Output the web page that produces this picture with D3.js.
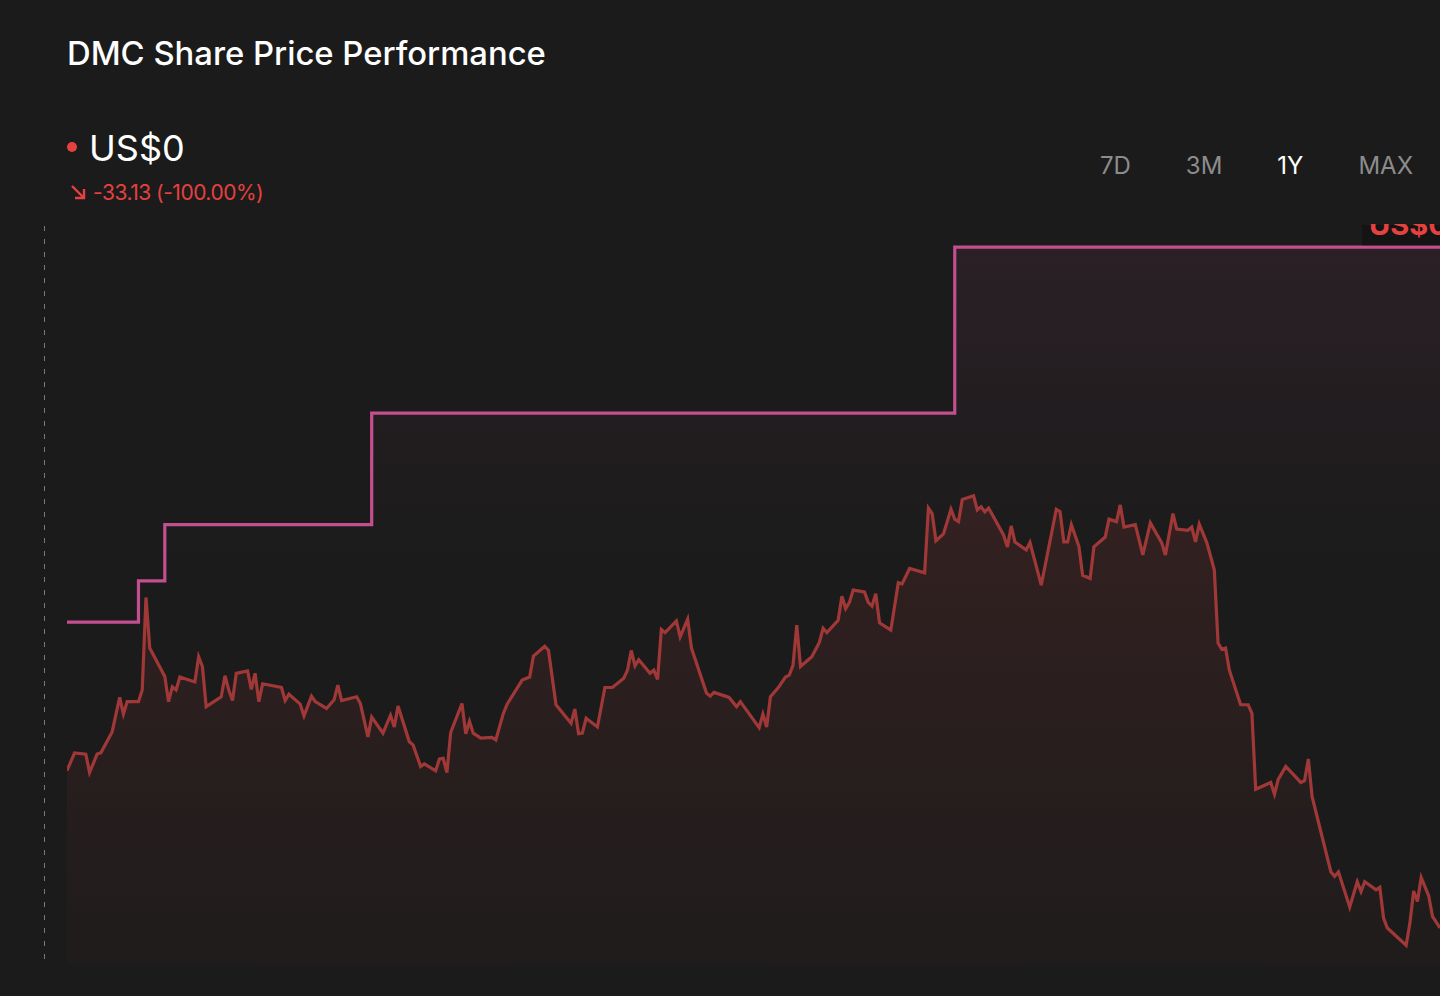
<!DOCTYPE html>
<html>
<head>
<meta charset="utf-8">
<script src="https://d3js.org/d3.v7.min.js"></script>
<style>
body {
    margin: 0;
    background: #1b1b1b;
    font-family: Inter, "Noto Sans", sans-serif;
}
svg { display: block; }
</style>
</head>
<body>
<script>
// price series: [day offset in the 1Y window, price]
var priceDays = [0,2,5,6,8,9,12,14,15,16,19,20,21,22,26,27,28,29,30,34,35,36,37,41,42,43,44,45,48,49,50,51,52,57,58,59,62,63,65,66,69,71,72,73,77,78,80,81,84,86,87,88,91,92,94,95,98,99,100,101,102,105,106,107,108,110,113,114,116,117,121,123,124,127,128,130,134,135,136,137,138,141,143,145,148,149,150,151,152,155,156,157,158,159,162,163,165,166,170,171,172,175,176,178,179,184,185,186,187,189,191,192,193,194,195,198,200,201,202,205,206,207,208,209,212,213,214,215,216,219,221,222,224,228,229,230,231,233,235,236,237,238,241,242,243,244,245,249,250,251,252,255,256,259,263,264,265,266,267,269,270,272,273,276,277,279,280,281,284,286,288,291,292,294,295,298,299,300,301,303,305,306,307,308,309,312,314,315,316,320,321,322,324,328,329,330,331,336,337,338,341,343,344,345,348,349,350,351,356,357,358,359,360,362,363,365];
var priceValues = [31.5,34.4,34.2,31.2,34.2,34.4,37.8,43.4,40.7,42.7,42.7,44.6,59.6,51.4,46.8,42.7,45.1,44.6,46.7,45.9,50.0,48.4,41.9,43.5,46.9,44.6,42.9,47.3,47.7,44.7,47.3,42.7,45.6,45.0,42.9,43.9,42.3,40.4,43.6,42.7,41.6,43.0,45.4,42.9,43.5,42.4,37.0,40.2,37.6,40.5,38.6,42.0,36.2,35.7,32.2,32.6,31.5,33.4,33.5,31.2,37.7,42.4,37.5,39.5,37.6,36.8,36.9,36.5,40.8,42.3,46.2,46.7,50.1,51.7,51.0,42.2,39.2,41.5,37.5,37.6,40.0,38.6,45.0,45.0,46.5,47.8,51.0,48.5,49.5,47.3,47.8,46.3,54.4,53.9,55.8,53.2,56.1,51.4,44.1,43.6,44.2,43.6,43.4,41.9,42.7,38.5,40.7,38.6,43.5,44.9,46.7,47.0,48.6,55.1,48.4,50.0,52.3,54.6,53.9,55.9,59.8,57.8,58.8,60.8,60.5,58.8,58.2,60.2,55.5,54.3,62.0,61.8,64.3,63.6,74.1,73.2,68.8,69.9,73.9,72.3,71.9,75.5,76.1,73.8,74.3,73.5,74.1,69.7,67.8,71.2,68.6,67.3,68.5,61.6,73.9,73.5,68.6,68.6,71.4,67.9,63.2,62.7,67.8,69.4,72.3,71.9,74.6,71.0,71.4,66.5,71.7,68.5,66.5,73.2,70.7,70.5,71.0,68.6,71.5,68.5,64.1,52.2,51.2,51.4,47.8,42.2,42.2,40.8,28.5,29.6,27.7,30.1,32.2,29.6,29.9,33.4,27.3,15.1,14.4,15.1,9.4,13.5,11.9,13.5,12.2,12.6,7.6,6.0,3.2,6.8,12.0,10.3,14.2,11.2,7.9,6.0];

// step series
var stepDays = [0,19,26,81,236,365];
var stepValues = [55.6,62.3,71.4,89.5,116.4,116.4];

var ranges = ["7D","3M","1Y","MAX"];
var activeRange = "1Y";

var width = 1440, height = 996;
var plotLeft = 67, plotRight = 1440, plotTop = 225, plotBottom = 965;

var svg = d3.select("body").append("svg")
    .attr("width", width)
    .attr("height", height);

var x = d3.scaleLinear().domain([0, 365]).range([plotLeft, plotRight]);
var y = d3.scaleLinear().domain([0, 120]).range([plotBottom, plotTop]);

var price = priceDays.map(function(d, i) { return {d: d, v: priceValues[i]}; });
var steps = stepDays.map(function(d, i) { return {d: d, v: stepValues[i]}; });

var defs = svg.append("defs");
defs.append("clipPath").attr("id", "plot")
  .append("rect").attr("x", plotLeft).attr("y", plotTop - 1)
    .attr("width", plotRight - plotLeft).attr("height", plotBottom - plotTop + 1);

var gPink = defs.append("linearGradient").attr("id", "pinkFill")
    .attr("gradientUnits", "userSpaceOnUse")
    .attr("x1", 0).attr("x2", 0).attr("y1", y(116.4)).attr("y2", 560);
gPink.append("stop").attr("offset", 0).attr("stop-color", "#c44f8f").attr("stop-opacity", 0.09);
gPink.append("stop").attr("offset", 1).attr("stop-color", "#c44f8f").attr("stop-opacity", 0);

var gRed = defs.append("linearGradient").attr("id", "redFill")
    .attr("gradientUnits", "userSpaceOnUse")
    .attr("x1", 0).attr("x2", 0).attr("y1", y(76)).attr("y2", plotBottom);
gRed.append("stop").attr("offset", 0).attr("stop-color", "#a83a3a").attr("stop-opacity", 0.17);
gRed.append("stop").attr("offset", 1).attr("stop-color", "#a83a3a").attr("stop-opacity", 0.03);

// title
svg.append("text")
    .attr("x", 67).attr("y", 65)
    .attr("fill", "#ffffff")
    .style("font-size", "32.8px")
    .style("font-weight", 500)
    .text("DMC Share Price Performance");

// current price
svg.append("circle").attr("cx", 72).attr("cy", 147).attr("r", 5).attr("fill", "#e5413f");
svg.append("text")
    .attr("x", 89).attr("y", 161)
    .attr("fill", "#ffffff")
    .style("font-size", "36px")
    .text("US$0");

// change
var arrow = svg.append("g").attr("stroke", "#e5413f").attr("stroke-width", 2.4).attr("fill", "none");
arrow.append("path").attr("d", "M72,186 L84,198");
arrow.append("path").attr("d", "M84,189 L84,198 L75,198");
svg.append("text")
    .attr("x", 93).attr("y", 200)
    .attr("fill", "#e5413f")
    .style("font-size", "21px")
    .style("letter-spacing", "-0.5px")
    .text("-33.13 (-100.00%)");

// range buttons, laid out right to left with a fixed gap
var btns = svg.selectAll(".range").data(ranges).enter().append("text")
    .attr("class", "range")
    .attr("y", 174)
    .attr("fill", function(d) { return d === activeRange ? "#ffffff" : "#8c8c8c"; })
    .style("font-size", "24px")
    .text(function(d) { return d; });
var cursor = 1413;
btns.nodes().reverse().forEach(function(n) {
    var w = n.getComputedTextLength();
    d3.select(n).attr("x", cursor - w);
    cursor -= w + 55;
});

// dashed guide
svg.append("line")
    .attr("x1", 44.5).attr("x2", 44.5)
    .attr("y1", plotTop + 1).attr("y2", plotBottom)
    .attr("stroke", "#7a7a7a")
    .attr("stroke-width", 1)
    .attr("stroke-dasharray", "5,8");

var plot = svg.append("g").attr("clip-path", "url(#plot)");

plot.append("path").datum(steps)
    .attr("fill", "url(#pinkFill)")
    .attr("d", d3.area().curve(d3.curveStepAfter)
        .x(function(d) { return x(d.d); }).y0(plotBottom).y1(function(d) { return y(d.v); }));

plot.append("path").datum(price)
    .attr("fill", "url(#redFill)")
    .attr("d", d3.area()
        .x(function(d) { return x(d.d); }).y0(plotBottom).y1(function(d) { return y(d.v); }));

plot.append("path").datum(steps)
    .attr("fill", "none")
    .attr("stroke", "#c44f8f")
    .attr("stroke-width", 3.2)
    .attr("d", d3.line().curve(d3.curveStepAfter)
        .x(function(d) { return x(d.d); }).y(function(d) { return y(d.v); }));

plot.append("path").datum(price)
    .attr("fill", "none")
    .attr("stroke", "#a03838")
    .attr("stroke-width", 3.2)
    .attr("d", d3.line()
        .x(function(d) { return x(d.d); }).y(function(d) { return y(d.v); }));

// latest value tag, cut off by the top and right edge of the plot
var tag = plot.append("g");
tag.append("rect").attr("x", 1362).attr("y", plotTop).attr("width", 78).attr("height", y(116.4) - plotTop - 2)
    .attr("fill", "#141414");
tag.append("text")
    .attr("x", 1369).attr("y", 235)
    .attr("fill", "#e5413f")
    .style("font-size", "29px")
    .style("font-weight", 700)
    .text("US$0");
</script>
</body>
</html>
